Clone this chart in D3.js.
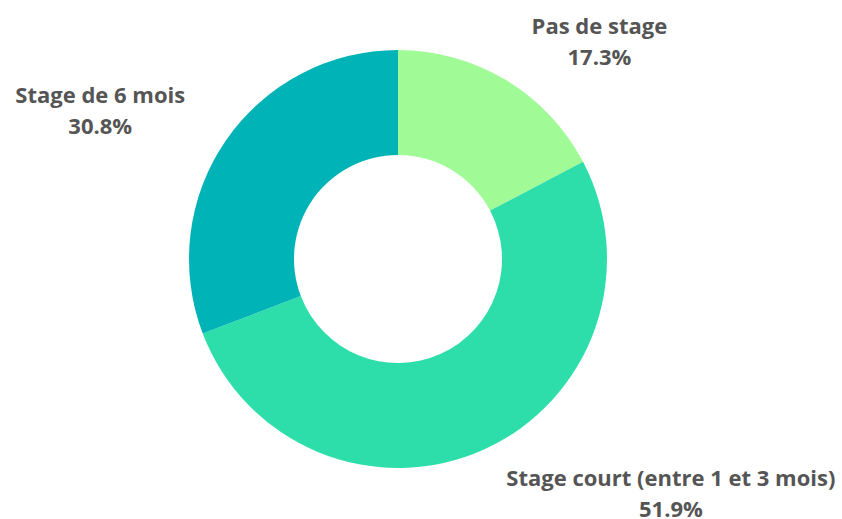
<!DOCTYPE html>
<meta charset="utf-8">
<style type="text/css">
	body { margin: 0; background: #fff; }
	text { font-family: "Open Sans", sans-serif; font-weight: bold; fill: #555; }
</style>
<body></body>
<script src="https://d3js.org/d3.v7.min.js"></script>
<script>

	var categories = ["Pas de stage", "Stage court (entre 1 et 3 mois)", "Stage de 6 mois"];
	var values = [17.3, 51.9, 30.8];
	var colors = ["#a0fb96", "#2ddeab", "#00b3b7"];

	var width = 842, height = 519;
	var cx = 398, cy = 259;
	var outerR = 209, innerR = 104;

	var data = categories.map(function(c, i) {
		return {name: c, value: values[i], color: colors[i]};
	});

	var svg = d3.select("body").append("svg")
		.attr("width", width)
		.attr("height", height);

	var g = svg.append("g")
		.attr("transform", "translate(" + cx + "," + cy + ")");

	var pie = d3.pie()
		.sort(null)
		.value(function(d) { return d.value; });

	var arc = d3.arc()
		.innerRadius(innerR)
		.outerRadius(outerR);

	var arcs = pie(data);

	g.selectAll("path")
		.data(arcs)
		.enter()
		.append("path")
		.attr("d", arc)
		.attr("fill", function(d) { return d.data.color; });

	// labels: box placed outside the slice, on the side of its mid angle
	var lineH = 31, fontSize = 22;
	var labelR = outerR + 30;

	arcs.forEach(function(d) {
		var a = (d.startAngle + d.endAngle) / 2;
		var ax = Math.sin(a) * labelR;
		var ay = -Math.cos(a) * labelR;

		var t = g.append("text")
			.attr("font-size", fontSize + "px")
			.attr("text-anchor", "middle");
		var l1 = t.append("tspan").text(d.data.name);
		var l2 = t.append("tspan").text(d.data.value.toFixed(1) + "%");

		var w = Math.max(l1.node().getComputedTextLength(), l2.node().getComputedTextLength());
		var mid = ax >= 0 ? ax + 10 + w / 2 : ax - 16 - w / 2;
		var base = ay < 0 ? ay - 20 : ay + 9;

		l1.attr("x", mid).attr("y", base);
		l2.attr("x", mid).attr("y", base + lineH);
	});

</script>
